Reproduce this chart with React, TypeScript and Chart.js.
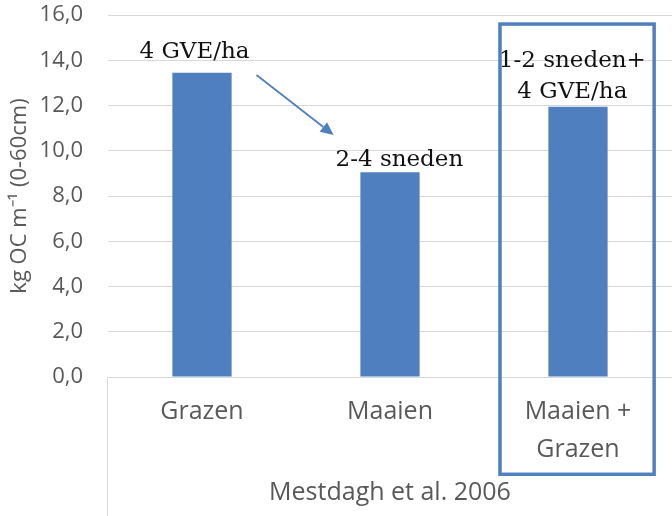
import React, { useEffect, useRef } from "react";
import { Chart, registerables } from "chart.js";

Chart.register(...registerables);

// ---- data ----
const categories: (string | string[])[] = ["Grazen", "Maaien", ["Maaien +", "Grazen"]];
const carbonValues: number[] = [13.45, 9.05, 11.95];
const yTicks: number[] = [0, 2, 4, 6, 8, 10, 12, 14, 16];
const axisTitleY = "kg OC m\u207B\u00B9 (0-60cm)";
const axisTitleX = "Mestdagh et al. 2006";

// annotations in data units (category index, value)
const annotationTexts: { text: string; cat: number; val: number }[] = [
  { text: "4 GVE/ha", cat: -0.04, val: 14.35 },
  { text: "2-4 sneden", cat: 1.05, val: 9.6 },
  { text: "1-2 sneden+", cat: 1.97, val: 13.95 },
  { text: "4 GVE/ha", cat: 1.97, val: 12.6 },
];
const arrowFrom = { cat: 0.29, val: 13.35 };
const arrowTo = { cat: 0.7, val: 10.7 };
const highlightBox = { catFrom: 1.585, catTo: 2.405, valTop: 15.6, valBottom: -4.3 };

const BLUE = "#4f7fbf";
const GRAY = "#595959";
const GRID = "#d9d9d9";

const annotationPlugin = {
  id: "annotations",
  afterDraw(chart: any) {
    const { ctx, scales, chartArea } = chart;
    const xs = scales.x;
    const ys = scales.y;
    ctx.save();
    // left vertical line of category axis
    ctx.strokeStyle = GRID;
    ctx.lineWidth = 1;
    ctx.beginPath();
    ctx.moveTo(chartArea.left - 0.5, chartArea.bottom);
    ctx.lineTo(chartArea.left - 0.5, chart.height);
    ctx.stroke();

    // texts
    ctx.fillStyle = "#111";
    ctx.font = "23px 'DejaVu Serif'";
    ctx.textAlign = "center";
    ctx.textBaseline = "middle";
    for (const a of annotationTexts) {
      ctx.fillText(a.text, xs.getPixelForValue(a.cat), ys.getPixelForValue(a.val));
    }

    // arrow
    const x1 = xs.getPixelForValue(arrowFrom.cat);
    const y1 = ys.getPixelForValue(arrowFrom.val);
    const x2 = xs.getPixelForValue(arrowTo.cat);
    const y2 = ys.getPixelForValue(arrowTo.val);
    const ang = Math.atan2(y2 - y1, x2 - x1);
    const head = 13;
    const hw = 6;
    const bx = x2 - head * Math.cos(ang);
    const by = y2 - head * Math.sin(ang);
    ctx.strokeStyle = BLUE;
    ctx.fillStyle = BLUE;
    ctx.lineWidth = 1.8;
    ctx.beginPath();
    ctx.moveTo(x1, y1);
    ctx.lineTo(bx, by);
    ctx.stroke();
    ctx.beginPath();
    ctx.moveTo(x2, y2);
    ctx.lineTo(bx + hw * Math.sin(ang), by - hw * Math.cos(ang));
    ctx.lineTo(bx - hw * Math.sin(ang), by + hw * Math.cos(ang));
    ctx.closePath();
    ctx.fill();

    // highlight box
    const bl = xs.getPixelForValue(highlightBox.catFrom);
    const br = xs.getPixelForValue(highlightBox.catTo);
    const bt = ys.getPixelForValue(highlightBox.valTop);
    const bb = ys.getPixelForValue(highlightBox.valBottom);
    ctx.strokeStyle = BLUE;
    ctx.lineWidth = 3.5;
    ctx.strokeRect(bl, bt, br - bl, bb - bt);
    ctx.restore();
  },
};

export default function App() {
  const ref = useRef<HTMLCanvasElement | null>(null);
  useEffect(() => {
    document.body.style.margin = "0";
    const canvas = ref.current!;
    const chart = new Chart(canvas, {
      type: "bar",
      data: {
        labels: categories as any,
        datasets: [
          {
            data: carbonValues,
            backgroundColor: BLUE,
            barPercentage: 0.63,
            categoryPercentage: 0.5,
          },
        ],
      },
      options: {
        responsive: false,
        animation: false,
        devicePixelRatio: 1,
        layout: { padding: { top: 15, right: 0, left: 0, bottom: 0 } },
        plugins: { legend: { display: false }, tooltip: { enabled: false } },
        scales: {
          x: {
            offset: true,
            grid: { display: false, drawTicks: false },
            border: { display: true, color: GRID, width: 1 },
            ticks: {
              color: GRAY,
              font: { family: "'Open Sans'", size: 25, lineHeight: 1.55 },
              padding: 15,
              maxRotation: 0,
              autoSkip: false,
            },
            title: {
              display: true,
              text: axisTitleX,
              color: GRAY,
              font: { family: "'Open Sans'", size: 25 },
              padding: { top: 0, bottom: 8 },
            },
            afterFit(scale: any) {
              scale.height = 139;
              scale.paddingLeft = 0;
              scale.paddingRight = 0;
            },
          },
          y: {
            min: 0,
            max: 16,
            afterBuildTicks(scale: any) {
              scale.ticks = yTicks.map((v) => ({ value: v }));
            },
            grid: { color: GRID, drawTicks: false, lineWidth: 1 },
            border: { display: false },
            ticks: {
              color: GRAY,
              font: { family: "'Open Sans'", size: 22 },
              padding: 25,
              callback: (v: any) => Number(v).toFixed(1).replace(".", ","),
            },
            title: {
              display: true,
              text: axisTitleY,
              color: GRAY,
              font: { family: "'Open Sans'", size: 22 },
              padding: { top: 7, bottom: 0 },
            },
            afterFit(scale: any) {
              scale.width = 108;
              scale.paddingTop = 0;
              scale.paddingBottom = 0;
            },
          },
        },
      },
      plugins: [annotationPlugin],
    });
    return () => chart.destroy();
  }, []);
  return <canvas ref={ref} width={672} height={516} style={{ display: "block" }} />;
}
